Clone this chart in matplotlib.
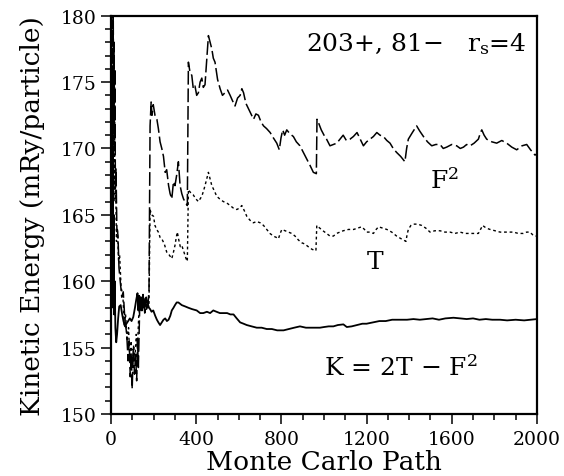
import numpy as np
import matplotlib.pyplot as plt
from matplotlib.ticker import MultipleLocator

# F^2 estimator (long dashes)
f2_x = [0, 2, 4, 6, 8, 10, 12, 14, 16, 18, 20, 23, 27, 32, 37, 43, 50, 57, 65, 73,
        80, 85, 90, 95, 99, 104, 110, 115, 120, 124, 128, 135, 142, 150, 158, 165,
        172, 178, 183, 188, 192, 198, 206, 215, 222, 230, 238, 246, 254, 261, 270,
        277, 285, 293, 300, 308, 316, 324, 332, 340, 350, 358, 363, 370, 379, 386,
        394, 402, 410, 418, 426, 433, 441, 449, 457, 465, 473, 480, 488, 500, 512,
        523, 535, 547, 559, 570, 582, 594, 606, 614, 622, 633, 645, 657, 669, 680,
        692, 704, 716, 730, 747, 762, 778, 790, 798, 806, 815, 825, 840, 856, 870,
        887, 903, 919, 935, 950, 964, 967, 975, 987, 1000, 1012, 1028, 1044, 1060,
        1075, 1090, 1105, 1122, 1138, 1155, 1170, 1185, 1200, 1216, 1232, 1248,
        1263, 1279, 1295, 1310, 1325, 1341, 1360, 1380, 1388, 1396, 1415, 1435,
        1450, 1467, 1486, 1506, 1525, 1545, 1560, 1576, 1600, 1623, 1640, 1655,
        1670, 1686, 1705, 1725, 1735, 1741, 1752, 1764, 1788, 1811, 1835, 1858,
        1882, 1905, 1930, 1952, 1970, 1991, 2000]
f2_y = [176, 180, 171, 179, 173, 180, 172, 178, 170, 176, 167, 168.5, 164, 163.5,
        161, 160, 158.8, 159.2, 157, 156.1, 154, 155.5, 152.8, 154.5, 151.9, 154.9,
        153, 154.5, 152.5, 155.6, 153.5, 158.6, 157.8, 159, 157.6, 158.8, 158,
        159.3, 171.7, 173.5, 172.5, 173.3, 172.5, 172.2, 171.5, 170.5, 170, 169.4,
        168.2, 168.4, 167.2, 166.6, 166.2, 167.5, 167.2, 168.0, 169.0, 167.2, 166.6,
        166.2, 165.9, 165.7, 176.5, 175.8, 175.5, 174.5, 174.7, 174.0, 174.2, 175.0,
        175.3, 174.6, 174.8, 176.7, 178.5, 178.0, 177.5, 176.8, 176.5, 175.2, 174.5,
        174.0, 174.2, 174.4, 174.0, 173.6, 173.2, 173.8, 174.0, 174.5, 174.2, 173.4,
        173.0, 172.6, 172.2, 172.6, 172.5, 172.0, 171.7, 171.5, 171.2, 170.8, 170.4,
        169.9, 170.8, 171.4, 171.0, 171.4, 171.1, 170.9, 170.5, 170.2, 169.7, 169.2,
        168.7, 168.2, 168.1, 172.2, 171.9, 171.4, 171.0, 170.7, 170.2, 170.3, 170.4,
        170.7, 171.0, 170.6, 170.7, 170.9, 171.2, 170.7, 170.2, 170.5, 170.7, 170.9,
        171.2, 171.0, 170.9, 170.6, 170.4, 170.0, 169.7, 169.4, 169.0, 170.0, 170.7,
        171.2, 171.7, 171.3, 170.9, 170.5, 170.2, 170.3, 170.3, 170.0, 170.1, 170.3,
        170.2, 170.0, 170.1, 170.3, 170.2, 170.4, 170.7, 171.2, 171.4, 171.0, 170.7,
        170.5, 170.4, 170.6, 170.4, 170.1, 169.9, 170.2, 170.3, 169.9, 169.5, 169.6]

# T estimator (dotted)
t_x = [0, 2, 4, 6, 8, 10, 12, 14, 16, 18, 21, 25, 30, 35, 40, 47, 55, 62, 68, 75,
       82, 88, 94, 100, 106, 112, 118, 124, 130, 138, 146, 155, 163, 170, 178, 183,
       190, 199, 206, 214, 222, 230, 238, 250, 261, 272, 285, 293, 300, 306, 311,
       318, 325, 332, 342, 352, 358, 363, 372, 386, 398, 410, 418, 426, 434, 441,
       449, 457, 465, 473, 485, 496, 510, 527, 543, 559, 575, 590, 602, 614, 626,
       637, 652, 668, 684, 700, 716, 731, 746, 762, 776, 786, 794, 802, 818, 833,
       848, 864, 880, 895, 910, 926, 944, 962, 966, 980, 995, 1012, 1028, 1044,
       1059, 1075, 1090, 1115, 1139, 1158, 1177, 1190, 1200, 1216, 1232, 1245,
       1256, 1275, 1295, 1318, 1341, 1362, 1385, 1390, 1396, 1408, 1420, 1440,
       1459, 1478, 1498, 1520, 1545, 1568, 1592, 1615, 1639, 1662, 1686, 1705,
       1725, 1735, 1745, 1762, 1780, 1803, 1827, 1858, 1890, 1912, 1936, 1952,
       1967, 1980, 1991, 2000]
t_y = [175, 168, 178, 170, 176, 168, 174, 167, 172, 166, 168, 163, 164, 161.5, 162,
       159.5, 159, 156.6, 157.5, 155.5, 156.5, 154.0, 155.5, 153.5, 155.2, 154.0,
       156.0, 155.0, 157.5, 158.2, 157.8, 158.6, 158.0, 158.5, 158.2, 165.4, 165.0,
       164.9, 164.2, 163.9, 163.7, 163.3, 163.2, 162.8, 162.2, 162.0, 161.7, 162.2,
       162.7, 163.3, 163.7, 163.1, 162.6, 162.7, 162.2, 161.7, 161.5, 166.9, 166.7,
       166.5, 166.2, 166.0, 166.2, 166.4, 166.8, 167.2, 167.7, 168.2, 167.7, 167.2,
       166.8, 166.4, 166.2, 166.0, 165.9, 165.7, 165.5, 165.4, 165.5, 165.7, 165.3,
       164.9, 164.6, 164.4, 164.5, 164.4, 164.2, 163.9, 163.6, 163.4, 163.3, 163.2,
       163.6, 163.9, 163.8, 163.7, 163.6, 163.4, 163.1, 162.9, 162.8, 162.6, 162.4,
       162.3, 164.2, 164.0, 163.8, 163.6, 163.4, 163.4, 163.6, 163.7, 163.8, 163.9,
       163.9, 164.0, 164.1, 163.9, 163.7, 163.7, 163.6, 163.9, 164.1, 164.0, 163.9,
       163.7, 163.4, 163.2, 163.0, 163.5, 163.9, 164.2, 164.3, 164.3, 164.2, 164.0,
       163.7, 163.8, 163.8, 163.7, 163.7, 163.6, 163.7, 163.6, 163.6, 163.6, 163.6,
       163.9, 164.2, 164.0, 163.9, 163.8, 163.7, 163.7, 163.7, 163.6, 163.6, 163.7,
       163.7, 163.5, 163.4, 163.4]

# K = 2T - F^2 (solid)
k_x = [0, 2, 4, 6, 8, 10, 12, 14, 17, 20, 24, 28, 33, 38, 45, 52, 58, 65, 72, 80,
       88, 96, 104, 112, 118, 124, 128, 132, 136, 140, 145, 150, 155, 160, 166, 172,
       178, 183, 190, 198, 207, 215, 222, 230, 238, 246, 254, 262, 270, 278, 285,
       293, 300, 308, 316, 324, 332, 348, 363, 380, 402, 418, 433, 450, 465, 480,
       495, 511, 527, 545, 560, 575, 590, 606, 622, 637, 660, 684, 707, 731, 755,
       780, 810, 835, 860, 887, 915, 940, 966, 981, 1000, 1022, 1044, 1065, 1091,
       1107, 1130, 1155, 1180, 1200, 1230, 1260, 1290, 1320, 1357, 1390, 1420, 1450,
       1480, 1510, 1540, 1570, 1608, 1640, 1670, 1700, 1730, 1760, 1790, 1827, 1860,
       1900, 1940, 1970, 2000]
k_y = [172, 162, 176, 160, 170, 158, 165, 157.5, 160, 156.5, 155.4, 156, 157.2,
       158.1, 158.2, 157.5, 157.0, 156.6, 156.8, 157.0, 157.2, 157.0, 157.3, 158.0,
       158.6, 159.1, 157.8, 158.9, 158.0, 158.8, 157.8, 158.5, 158.0, 158.7, 157.9,
       158.3, 158.0, 157.9, 157.7, 157.8, 157.4, 157.1, 156.9, 156.7, 156.9, 157.1,
       157.2, 157.0, 157.1, 157.4, 157.8, 158.0, 158.2, 158.4, 158.4, 158.3, 158.2,
       158.1, 158.0, 157.9, 157.8, 157.6, 157.6, 157.7, 157.6, 157.8, 157.7, 157.6,
       157.6, 157.6, 157.5, 157.5, 157.2, 156.9, 156.8, 156.7, 156.6, 156.5, 156.5,
       156.4, 156.4, 156.3, 156.3, 156.4, 156.5, 156.6, 156.5, 156.5, 156.5, 156.5,
       156.55, 156.6, 156.6, 156.7, 156.75, 156.55, 156.6, 156.7, 156.8, 156.8,
       156.9, 157.0, 157.0, 157.1, 157.1, 157.1, 157.15, 157.1, 157.15, 157.2,
       157.1, 157.2, 157.25, 157.2, 157.15, 157.2, 157.1, 157.15, 157.1, 157.1,
       157.05, 157.1, 157.05, 157.1, 157.15]

plt.rcParams['font.family'] = ['DejaVu Serif']
plt.rcParams['mathtext.fontset'] = 'dejavuserif'

fig = plt.figure(figsize=(5.64, 4.77), dpi=100)
ax = fig.add_axes([0.197, 0.130, 0.755, 0.835])

ax.plot(f2_x, f2_y, color='black', lw=1.1, linestyle=(0, (9, 2.5)))
ax.plot(t_x, t_y, color='black', lw=1.0, linestyle=(0, (2, 2)))
ax.plot(k_x, k_y, color='black', lw=1.3, linestyle='-')

ax.set_xlim(0, 2000)
ax.set_ylim(150, 180)
ax.xaxis.set_major_locator(MultipleLocator(400))
ax.xaxis.set_minor_locator(MultipleLocator(100))
ax.yaxis.set_major_locator(MultipleLocator(5))
ax.yaxis.set_minor_locator(MultipleLocator(1))
ax.tick_params(which='both', direction='out', top=False, right=False,
               width=1.1, labelsize=13.5)
ax.tick_params(which='major', length=7.5)
ax.tick_params(which='minor', length=4.5)
ax.tick_params(axis='y', which='major', pad=3)
ax.tick_params(axis='x', which='major', pad=4)
for s in ax.spines.values():
    s.set_linewidth(1.6)

ax.set_xlabel('Monte Carlo Path', fontsize=19, labelpad=1)
ax.set_ylabel('Kinetic Energy (mRy/particle)', fontsize=19, labelpad=11)

ax.text(0.975, 0.93, r'203+, 81$-$   r$_{\rm s}$=4', transform=ax.transAxes,
        ha='right', va='center', fontsize=18)
ax.text(1500, 167.6, r'F$^2$', ha='left', va='center', fontsize=18)
ax.text(1240, 161.5, 'T', ha='center', va='center', fontsize=18)
ax.text(1000, 153.5, r'K = 2T $-$ F$^2$', ha='left', va='center', fontsize=18)

fig.savefig('out.png', dpi=100)
